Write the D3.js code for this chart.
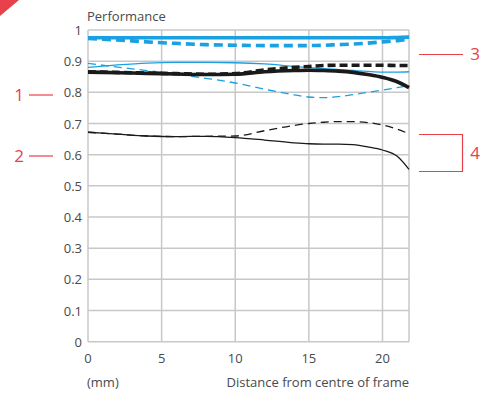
<!DOCTYPE html>
<html>
<head>
<meta charset="utf-8">
<script src="https://cdn.jsdelivr.net/npm/d3@7"></script>
<style>
  body { margin: 0; background: #fff; }
  svg { display: block; font-family: 'Open Sans', 'Noto Sans', sans-serif; }
  .lbl { fill: #4a4a4a; font-size: 13px; }
  .mark { fill: #e8414a; font-size: 17px; }
</style>
</head>
<body>
<script>
const width = 481;
const height = 393;

// distance from centre of frame (mm)
const distance = [0, 2, 4, 6, 8, 10, 12, 14, 15, 16, 17, 18, 19, 20, 21, 21.8];

const blueThickSolid = [0.975, 0.975, 0.975, 0.975, 0.975, 0.975, 0.975, 0.975, 0.975, 0.975, 0.975, 0.975, 0.975, 0.975, 0.976, 0.977];
const blueThickDashed = [0.973, 0.968, 0.962, 0.957, 0.953, 0.951, 0.950, 0.950, 0.950, 0.951, 0.953, 0.955, 0.958, 0.962, 0.966, 0.970];
const blueThinSolid = [0.880, 0.888, 0.894, 0.896, 0.896, 0.895, 0.891, 0.883, 0.879, 0.876, 0.873, 0.870, 0.867, 0.865, 0.865, 0.866];
const blueThinDashed = [0.893, 0.881, 0.870, 0.858, 0.845, 0.830, 0.810, 0.792, 0.785, 0.783, 0.786, 0.793, 0.800, 0.807, 0.815, 0.822];
const blackThickSolid = [0.865, 0.863, 0.861, 0.859, 0.857, 0.858, 0.866, 0.870, 0.871, 0.870, 0.868, 0.864, 0.857, 0.848, 0.834, 0.815];
const blackThickDashed = [0.866, 0.864, 0.862, 0.860, 0.858, 0.860, 0.872, 0.880, 0.883, 0.886, 0.887, 0.887, 0.887, 0.887, 0.886, 0.886];
const blackThinSolid = [0.672, 0.666, 0.660, 0.658, 0.659, 0.655, 0.647, 0.638, 0.635, 0.634, 0.634, 0.632, 0.625, 0.615, 0.595, 0.553];
const blackThinDashed = [0.672, 0.666, 0.660, 0.658, 0.659, 0.660, 0.677, 0.694, 0.700, 0.704, 0.706, 0.706, 0.703, 0.695, 0.682, 0.667];

const xTicks = [0, 5, 10, 15, 20];
const yTicks = [0, 0.1, 0.2, 0.3, 0.4, 0.5, 0.6, 0.7, 0.8, 0.9, 1];

const blue = '#1ba1e2';
const black = '#1a1a1a';

const series = [
  { values: blueThinSolid, color: blue, w: 1.3, dash: null },
  { values: blueThinDashed, color: blue, w: 1.3, dash: '8,5' },
  { values: blackThinSolid, color: black, w: 1.3, dash: null },
  { values: blackThinDashed, color: black, w: 1.3, dash: '8,5' },
  { values: blackThickSolid, color: black, w: 3.6, dash: null },
  { values: blackThickDashed, color: black, w: 3.6, dash: '8,4' },
  { values: blueThickSolid, color: blue, w: 3.6, dash: null },
  { values: blueThickDashed, color: blue, w: 3.6, dash: '9,5' }
];

const svg = d3.select('body').append('svg').attr('width', width).attr('height', height);

// red corner
svg.append('path').attr('d', 'M0,0 L19,0 L0,16 Z').attr('fill', '#e8414a');

const x = d3.scaleLinear().domain([0, 21.8]).range([88, 409]);
const y = d3.scaleLinear().domain([0, 1]).range([341.7, 30]);

const grid = svg.append('g').attr('stroke', '#c8c8c8').attr('stroke-width', 1.5);
grid.selectAll('.hg').data(yTicks).enter().append('line')
  .attr('x1', x(0)).attr('x2', x(21.8))
  .attr('y1', d => y(d)).attr('y2', d => y(d));
grid.selectAll('.vg').data(xTicks.concat([21.8])).enter().append('line')
  .attr('x1', d => x(d)).attr('x2', d => x(d))
  .attr('y1', y(0)).attr('y2', y(1));

svg.selectAll('.ytl').data(yTicks).enter().append('text')
  .attr('class', 'lbl')
  .attr('x', 82).attr('y', d => y(d) + 5)
  .attr('text-anchor', 'end')
  .text(d => (d === 0 || d === 1) ? d : d.toFixed(1));

svg.selectAll('.xtl').data(xTicks).enter().append('text')
  .attr('class', 'lbl')
  .attr('x', d => x(d)).attr('y', 363)
  .attr('text-anchor', 'middle')
  .text(d => d);

svg.append('text').attr('class', 'lbl').attr('x', 87).attr('y', 21).text('Performance');
svg.append('text').attr('class', 'lbl').attr('x', 87).attr('y', 387).text('(mm)');
svg.append('text').attr('class', 'lbl').attr('x', 409).attr('y', 387)
  .attr('text-anchor', 'end').text('Distance from centre of frame');

const line = d3.line()
  .x((d, i) => x(distance[i]))
  .y(d => y(d))
  .curve(d3.curveMonotoneX);

svg.append('g').selectAll('path').data(series).enter().append('path')
  .attr('d', d => line(d.values))
  .attr('fill', 'none')
  .attr('stroke', d => d.color)
  .attr('stroke-width', d => d.w)
  .attr('stroke-dasharray', d => d.dash);

// red callouts
const red = '#e8414a';
const callouts = svg.append('g');
callouts.append('line').attr('x1', 29).attr('x2', 53).attr('y1', 95).attr('y2', 95).attr('stroke', red).attr('stroke-width', 1.2);
callouts.append('text').attr('class', 'mark').attr('x', 19).attr('y', 101).attr('text-anchor', 'middle').text('1');
callouts.append('line').attr('x1', 29).attr('x2', 53).attr('y1', 156).attr('y2', 156).attr('stroke', red).attr('stroke-width', 1.2);
callouts.append('text').attr('class', 'mark').attr('x', 19).attr('y', 162).attr('text-anchor', 'middle').text('2');
callouts.append('line').attr('x1', 419).attr('x2', 463).attr('y1', 54.5).attr('y2', 54.5).attr('stroke', red).attr('stroke-width', 1.2);
callouts.append('text').attr('class', 'mark').attr('x', 475).attr('y', 60).attr('text-anchor', 'middle').text('3');
callouts.append('path').attr('d', 'M419,134.5 H462.5 V171.5 H419')
  .attr('fill', 'none').attr('stroke', red).attr('stroke-width', 1.2);
callouts.append('text').attr('class', 'mark').attr('x', 475).attr('y', 159).attr('text-anchor', 'middle').text('4');
</script>
</body>
</html>
